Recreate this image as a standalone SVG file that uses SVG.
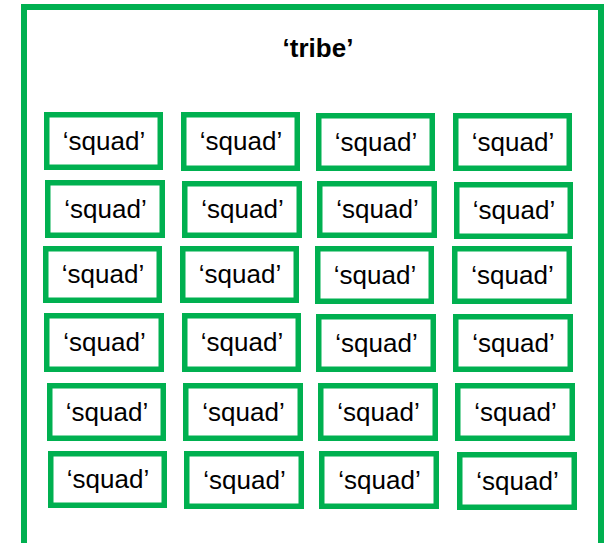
<svg xmlns="http://www.w3.org/2000/svg" width="606" height="543" viewBox="0 0 606 543">
<style>
.frame{fill:#fff;stroke:#00B050;stroke-width:6}
.sq rect{fill:#fff;stroke:#00B050;stroke-width:5.5}
.sq text{font-family:"Liberation Sans",Arial,sans-serif;font-size:26px;fill:#000;text-anchor:middle}
.title{font-family:"Liberation Sans",Arial,sans-serif;font-size:26px;font-weight:bold;fill:#000;text-anchor:middle}
</style>
<rect width="606" height="543" fill="#fff"/>
<g id="tribe">
<rect class="frame" x="24" y="7" width="577" height="560"/>
<text class="title" x="318" y="57">‘tribe’</text>
</g>
<g id="squads">
<g id="s1_1" class="sq"><rect x="46.75" y="114.75" width="113.5" height="52.5"/><text x="104" y="149.5">‘squad’</text></g>
<g id="s1_2" class="sq"><rect x="183.75" y="114.75" width="113.5" height="53.5"/><text x="241" y="150">‘squad’</text></g>
<g id="s1_3" class="sq"><rect x="318.75" y="115.75" width="113.5" height="52.5"/><text x="376" y="150.5">‘squad’</text></g>
<g id="s1_4" class="sq"><rect x="455.75" y="115.75" width="113.5" height="52.5"/><text x="513" y="150.5">‘squad’</text></g>

<g id="s2_1" class="sq"><rect x="47.75" y="182.75" width="114.5" height="52.5"/><text x="105.5" y="217.5">‘squad’</text></g>
<g id="s2_2" class="sq"><rect x="184.75" y="183.75" width="114.5" height="51.5"/><text x="242.5" y="218">‘squad’</text></g>
<g id="s2_3" class="sq"><rect x="319.75" y="183.75" width="114.5" height="51.5"/><text x="377.5" y="218">‘squad’</text></g>
<g id="s2_4" class="sq"><rect x="456.75" y="184.75" width="113.5" height="51.5"/><text x="514" y="219">‘squad’</text></g>

<g id="s3_1" class="sq"><rect x="45.75" y="248.75" width="113.5" height="51.5"/><text x="103" y="283">‘squad’</text></g>
<g id="s3_2" class="sq"><rect x="182.75" y="248.75" width="113.5" height="51.5"/><text x="240" y="283">‘squad’</text></g>
<g id="s3_3" class="sq"><rect x="317.75" y="248.75" width="113.5" height="52.5"/><text x="375" y="283.5">‘squad’</text></g>
<g id="s3_4" class="sq"><rect x="454.75" y="248.75" width="114.5" height="52.5"/><text x="512.5" y="283.5">‘squad’</text></g>

<g id="s4_1" class="sq"><rect x="46.75" y="315.75" width="114.5" height="53.5"/><text x="104.5" y="351">‘squad’</text></g>
<g id="s4_2" class="sq"><rect x="184.75" y="315.75" width="113.5" height="53.5"/><text x="242" y="351">‘squad’</text></g>
<g id="s4_3" class="sq"><rect x="318.75" y="316.75" width="114.5" height="52.5"/><text x="376.5" y="351.5">‘squad’</text></g>
<g id="s4_4" class="sq"><rect x="455.75" y="316.75" width="114.5" height="52.5"/><text x="513.5" y="351.5">‘squad’</text></g>

<g id="s5_1" class="sq"><rect x="49.75" y="385.75" width="113.5" height="52.5"/><text x="107" y="420.5">‘squad’</text></g>
<g id="s5_2" class="sq"><rect x="185.75" y="385.75" width="114.5" height="52.5"/><text x="243.5" y="420.5">‘squad’</text></g>
<g id="s5_3" class="sq"><rect x="320.75" y="385.75" width="114.5" height="52.5"/><text x="378.5" y="420.5">‘squad’</text></g>
<g id="s5_4" class="sq"><rect x="457.75" y="385.75" width="114.5" height="52.5"/><text x="515.5" y="420.5">‘squad’</text></g>

<g id="s6_1" class="sq"><rect x="50.75" y="453.75" width="113.5" height="51.5"/><text x="108" y="488">‘squad’</text></g>
<g id="s6_2" class="sq"><rect x="186.75" y="453.75" width="114.5" height="52.5"/><text x="244.5" y="488.5">‘squad’</text></g>
<g id="s6_3" class="sq"><rect x="321.75" y="453.75" width="114.5" height="52.5"/><text x="379.5" y="488.5">‘squad’</text></g>
<g id="s6_4" class="sq"><rect x="459.75" y="454.75" width="114.5" height="52.5"/><text x="517.5" y="489.5">‘squad’</text></g>
</g>
<g id="connectors"/>
</svg>
